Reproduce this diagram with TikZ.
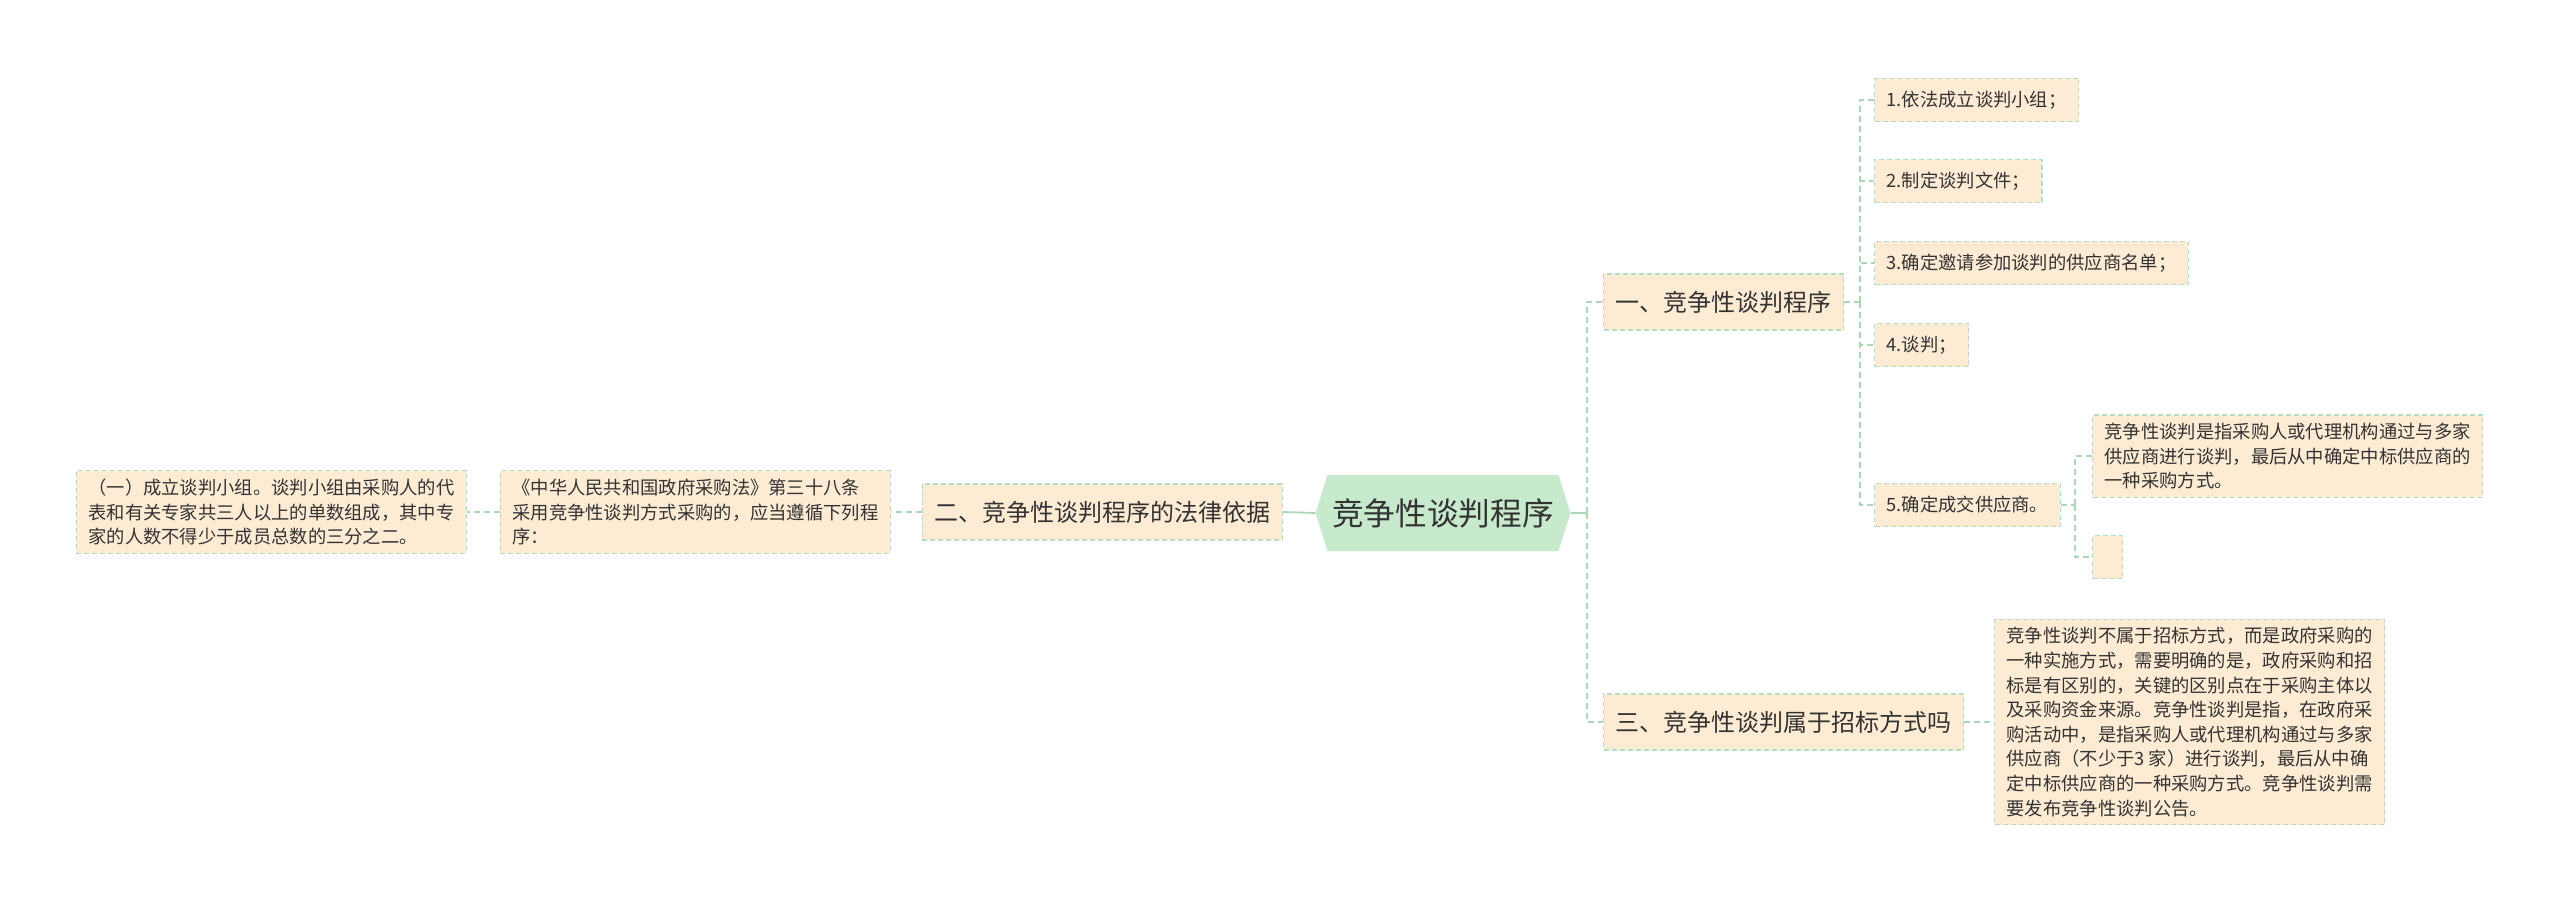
\documentclass[tikz,border=0pt]{standalone}
\usepackage{fontspec}
\setmainfont{Noto Sans CJK SC}
\usetikzlibrary{shapes.symbols}
\definecolor{boxfill}{HTML}{FDEBD3}
\definecolor{boxline}{HTML}{B3DEC0}
\definecolor{connc}{HTML}{A8D8B5}
\definecolor{hexfill}{HTML}{C7EACC}
\definecolor{txt}{HTML}{333333}
\tikzset{
  basebox/.style={draw=boxline, fill=boxfill, dash pattern=on 5pt off 3pt, line width=1.2pt,
    text=txt, anchor=west, inner xsep=12pt},
  leaf/.style={basebox, font=\fontsize{18.3}{24.6}\selectfont, align=left, inner ysep=8pt},
  item/.style={basebox, font=\fontsize{18.3}{22}\selectfont, minimum height=43pt, inner ysep=0pt},
  branch/.style={basebox, font=\fontsize{24}{28}\selectfont, minimum height=56pt, inner ysep=0pt},
  hexnode/.style={shape=signal, signal to=west and east, signal pointer angle=145, fill=hexfill,
    text=txt, font=\fontsize{31.7}{36}\selectfont, minimum height=76pt, minimum width=255pt, inner xsep=0pt},
  conn/.style={draw=connc, line width=1.5pt, dash pattern=on 6pt off 4pt},
  solidconn/.style={draw=connc, line width=1.8pt}
}
\begin{document}
\begin{tikzpicture}[x=1pt,y=-1pt]
\useasboundingbox[fill=white] (0,0) rectangle (2560,907);

% connectors first (underneath)
\coordinate (s0) at (1587,513);
\coordinate (s1) at (1860,302);
\coordinate (s5) at (2075,505);

\node[hexnode] (c) at (1443,513) {竞争性谈判程序};
\node[branch] (b1) at (1603,302) {一、竞争性谈判程序};
\node[branch, anchor=east] (b2) at (1283,512) {二、竞争性谈判程序的法律依据};
\node[branch] (b3) at (1603,722) {三、竞争性谈判属于招标方式吗};

\node[item] (i1) at (1874,100) {1.依法成立谈判小组；};
\node[item] (i2) at (1874,181) {2.制定谈判文件；};
\node[item] (i3) at (1874,263) {3.确定邀请参加谈判的供应商名单；};
\node[item] (i4) at (1874,345) {4.谈判；};
\node[item] (i5) at (1874,505) {5.确定成交供应商。};

\node[leaf] (i5a) at (2092,456) {竞争性谈判是指采购人或代理机构通过与多家\\供应商进行谈判，最后从中确定中标供应商的\\一种采购方式。};
\node[item, minimum width=30pt, inner xsep=0pt] (i5b) at (2092,557) {};

\node[leaf, anchor=east] (b2a) at (891,512) {《中华人民共和国政府采购法》第三十八条\\采用竞争性谈判方式采购的，应当遵循下列程\\序：};
\node[leaf, anchor=east] (b2aa) at (467,512) {（一）成立谈判小组。谈判小组由采购人的代\\表和有关专家共三人以上的单数组成，其中专\\家的人数不得少于成员总数的三分之二。};

\node[leaf] (b3a) at (1994,722) {竞争性谈判不属于招标方式，而是政府采购的\\一种实施方式，需要明确的是，政府采购和招\\标是有区别的，关键的区别点在于采购主体以\\及采购资金来源。竞争性谈判是指，在政府采\\购活动中，是指采购人或代理机构通过与多家\\供应商（不少于3 家）进行谈判，最后从中确\\定中标供应商的一种采购方式。竞争性谈判需\\要发布竞争性谈判公告。};

\draw[solidconn] (c.east) -- (s0);
\draw[conn] (s0) |- (b1.west);
\draw[conn] (s0) |- (b3.west);
\draw[solidconn] (c.west) -- (b2.east);
\draw[conn] (b2.west) -- (b2a.east);
\draw[conn] (b2a.west) -- (b2aa.east);
\draw[conn] (b1.east) -- (s1);
\foreach \k in {1,...,5} { \draw[conn] (s1) |- (i\k.west); }
\draw[conn] (i5.east) -- (s5);
\draw[conn] (s5) |- (i5a.west);
\draw[conn] (s5) |- (i5b.west);
\draw[conn] (b3.east) -- (b3a.west);
\end{tikzpicture}
\end{document}
